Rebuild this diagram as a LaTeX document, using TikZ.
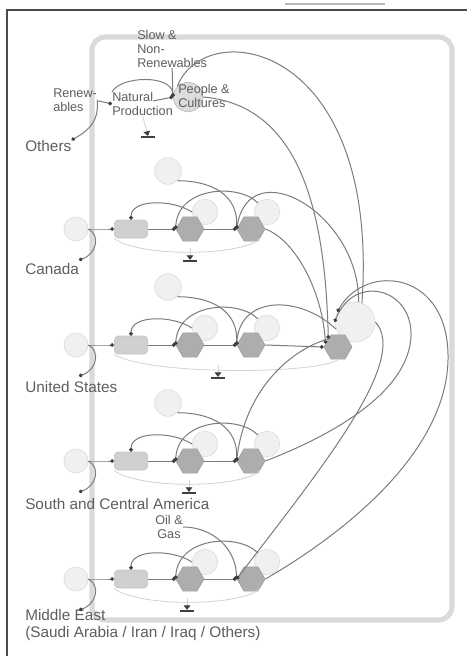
\documentclass[tikz,border=0pt]{standalone}
\usepackage{fontspec}
\setmainfont{Liberation Sans}
\usetikzlibrary{shapes.geometric,arrows.meta}

\definecolor{inkc}{HTML}{5E5E5E}
\definecolor{wirec}{HTML}{7C7C7C}
\definecolor{dotc}{HTML}{3F3F3F}
\definecolor{hexc}{HTML}{ADADAD}
\definecolor{hexe}{HTML}{A2A2A2}
\definecolor{boxc}{HTML}{D0D0D0}
\definecolor{boxe}{HTML}{C4C4C4}
\definecolor{ghostc}{HTML}{F0F0F0}
\definecolor{ghoste}{HTML}{E0E0E0}
\definecolor{peoplec}{HTML}{DCDCDC}
\definecolor{peoplee}{HTML}{C4C4C4}
\definecolor{loopc}{HTML}{D2D2D2}
\definecolor{framec}{HTML}{DADADA}
\definecolor{edgec}{HTML}{4A4A4A}

\tikzset{
  bigtxt/.style={font=\fontsize{11.5}{13}\selectfont, text=inkc, inner sep=0pt, align=left},
  smalltxt/.style={font=\fontsize{9.5}{10.5}\selectfont, text=inkc, inner sep=0pt, align=left},
  hexnode/.style={regular polygon, regular polygon sides=6, minimum size=21pt, inner sep=0pt,
                  fill=hexc, draw=hexe, line width=0.5pt},
  stocknode/.style={rectangle, rounded corners=3pt, minimum width=25pt, minimum height=13.5pt,
                    inner sep=0pt, fill=boxc, draw=boxe, line width=0.5pt},
  ghost/.style={circle, minimum size=#1, inner sep=0pt, fill=ghostc, draw=ghoste, line width=0.6pt},
  ghost/.default=19pt,
  sinknode/.style={rectangle, minimum width=10pt, minimum height=1.2pt, inner sep=0pt, fill=dotc},
  wire/.style={draw=wirec, line width=0.75pt},
  link/.style={wire, -{Circle[length=2.8pt, color=dotc]}},
  loopline/.style={draw=loopc, line width=0.6pt},
  sinkstem/.style={draw=loopc, line width=0.6pt, -{Triangle[length=3.5pt, width=5pt, color=dotc]}},
}

\begin{document}
\begin{tikzpicture}[x=0.75pt,y=-0.75pt]
\useasboundingbox (0,0) rectangle (467,656);
\fill[white] (0,0) rectangle (467,656);

% page frame and model boundary
\draw[edgec, line width=1.3pt] (7,656) -- (7,10) -- (467,10);
\draw[gray!55, line width=0.8pt] (285,4) -- (385,4);
\draw[framec, line width=3.8pt, rounded corners=10pt] (92,37) rectangle (452,620);

% ---------- world level ----------
\node[ghost=22pt, fill=peoplec, draw=peoplee] (people) at (188,97) {};
\node[smalltxt, anchor=north west] (peoplelab) at (178,84) {People \&\\Cultures};
\node[smalltxt, anchor=north west] (slow) at (137,30) {Slow \&\\Non-\\Renewables};
\node[smalltxt, anchor=north west] (natprod) at (112,92) {Natural\\Production};
\node[smalltxt, anchor=north west] (renew) at (53,89) {Renew-\\ables};
\node[bigtxt, anchor=north west] (others) at (25,140) {Others};
\node[sinknode] (topsink) at (148,137) {};
\coordinate (natout) at (153,101);

% ---------- regional rows ----------
\foreach \r/\y in {ca/229, us/345, sa/461, me/579}{
  \node[ghost=18pt] (\r-src) at (76,\y) {};
  \node[ghost] (\r-ga) at (205,\y-17) {};
  \node[ghost] (\r-gb) at (267,\y-17) {};
  \node[stocknode] (\r-box) at (131,\y) {};
  \node[hexnode] (\r-hexa) at (190,\y) {};
  \node[hexnode] (\r-hexb) at (251,\y) {};
  \coordinate (\r-tag) at (79,\y+31);
}
\foreach \r/\y in {ca/229, us/345, sa/461}{
  \node[ghost=20pt] (\r-gt) at (168,\y-58) {};
}
\node[ghost=30pt] (us-big) at (355,322) {};
\node[hexnode] (us-hexc) at (338,347) {};

\foreach \r/\sx/\sy in {ca/190/261, us/218/378, sa/189/493, me/187/611}{
  \node[sinknode] (\r-sink) at (\sx,\sy) {};
  \coordinate (\r-drop) at (\sx,\sy-13);
}

% region names
\node[bigtxt, anchor=north west] (ca-name) at (25,263) {Canada};
\node[bigtxt, anchor=north west] (us-name) at (25,381) {United States};
\node[bigtxt, anchor=north west] (sa-name) at (25,498) {South and Central America};
\node[bigtxt, anchor=north west] (me-name) at (25,609) {Middle East\\(Saudi Arabia / Iran / Iraq / Others)};
\node[smalltxt, align=center] (oilgas) at (169,527) {Oil \&\\Gas};

% ---------- links inside the world level ----------
\draw[link] (natout) -- (people.west);
\draw[link] (natprod.north west) .. controls (120,76) and (172,74) .. (people.west);
\draw[link] (slow.south) -- (people.west);
\draw[link] (renew.east) -- (natprod.west);
\draw[link] (renew.east) .. controls (99,120) and (90,130) .. (others.north east);
\draw[sinkstem] (natprod.south) -- (topsink.north);

% ---------- links inside each row ----------
\foreach \r/\y in {ca/229, us/345, sa/461, me/579}{
  \draw[link] (\r-src.east) .. controls +(10,0) and +(-10,0) .. (\r-box.west);
  \draw[link] (\r-src.east) .. controls +(12,6) and +(18,-6) .. (\r-tag);
  \draw[link] (\r-box.east) -- (\r-hexa.west);
  \draw[link] (\r-hexa.east) -- (\r-hexb.west);
  \draw[link] (\r-ga.west) .. controls (172,\y-30) and (131,\y-30) .. (\r-box.north);
  \draw[link] (\r-gb.north west) .. controls (238,\y-46) and (178,\y-42) .. (\r-hexa.west);
  \draw[sinkstem] (\r-drop) -- (\r-sink.north);
}
\foreach \r/\y in {ca/229, us/345, sa/461}{
  \draw[link] (\r-gt.south east) .. controls (215,\y-48) and (238,\y-32) .. (\r-hexb.west);
}
\draw[link] (oilgas.east) .. controls (212,527) and (236,548) .. (me-hexb.west);

% loops under the rows
\draw[loopline] (ca-box.south west) .. controls (140,258) and (245,256) .. (ca-hexb.south east);
\draw[loopline] (us-box.south west) .. controls (150,376) and (320,374) .. (us-hexc.south);
\draw[loopline] (sa-box.south west) .. controls (140,490) and (245,488) .. (sa-hexb.south east);
\draw[loopline] (me-box.south west) .. controls (140,608) and (245,606) .. (me-hexb.south east);

% ---------- links between levels ----------
\draw[wire] (people.north west) .. controls (205,15) and (380,40) .. (us-big.70);
\draw[link] (people.east) .. controls (295,105) and (325,200) .. (us-hexc.140);
\draw[link] (ca-hexb.east) .. controls (295,240) and (322,290) .. (us-hexc.165);
\draw[link] (us-big.80) .. controls (360,215) and (250,150) .. (ca-hexb.west);
\draw[link] (us-big.200) .. controls (300,295) and (240,295) .. (us-hexb.west);
\draw[link] (us-hexb.east) -- (us-hexc.west);
\draw[link] (us-hexc.140) .. controls (290,350) and (245,390) .. (sa-hexb.west);
\draw[link] (us-big.east) .. controls (410,360) and (320,470) .. (me-hexb.west);
\draw[link] (sa-hexb.east) .. controls (320,440) and (400,400) .. (410,345)
            .. controls (420,290) and (355,270) .. (us-big.west);
\draw[link] (me-hexb.east) .. controls (350,530) and (446,450) .. (448,360)
            .. controls (450,270) and (365,262) .. (us-big.150);
\end{tikzpicture}
\end{document}
